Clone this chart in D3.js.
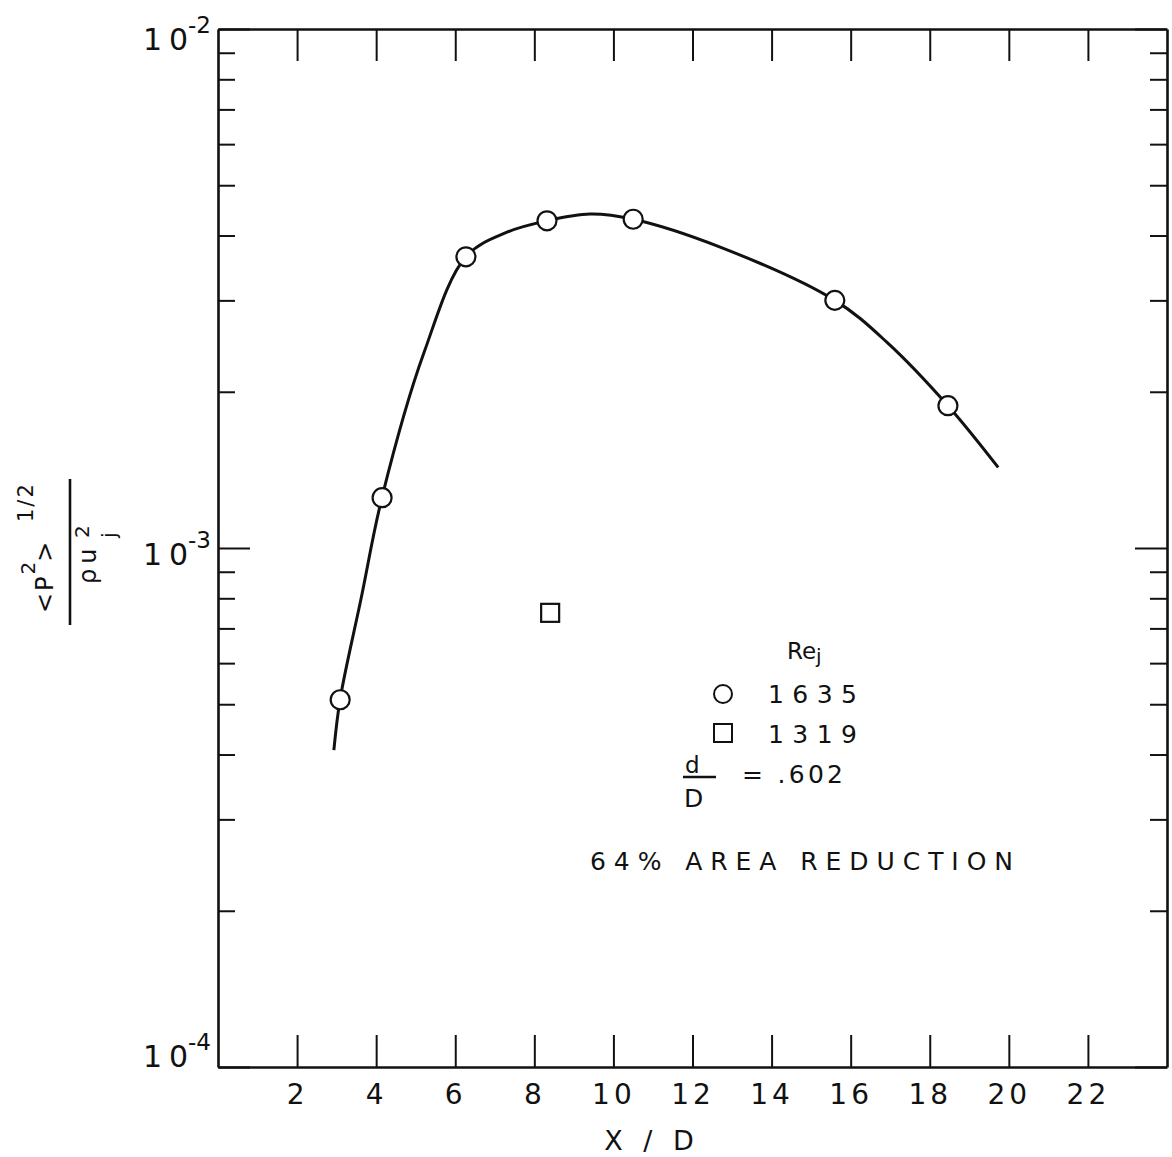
<!DOCTYPE html>
<html>
<head>
<meta charset="utf-8">
<script src="https://cdn.jsdelivr.net/npm/d3@7"></script>
<style>
  body { margin: 0; background: #fff; }
  text { font-family: "DejaVu Sans", sans-serif; fill: #111; }
</style>
</head>
<body>
<div id="chart"></div>
<script>
// data
var xTicks = [2, 4, 6, 8, 10, 12, 14, 16, 18, 20, 22];
var yDecades = [1e-4, 1e-3, 1e-2];
var yDecadeLabels = ["-4", "-3", "-2"];

// Re_j = 1635 (circles)
var circleX = [3.09, 4.15, 6.27, 8.32, 10.5, 15.6, 18.46];
var circleY = [5.1e-4, 1.25e-3, 3.64e-3, 4.27e-3, 4.3e-3, 3.0e-3, 1.88e-3];

// Re_j = 1319 (square)
var squareX = [8.4];
var squareY = [7.5e-4];

// faired curve through the circles
var curveX = [2.93, 3.09, 3.62, 4.15, 5.21, 6.27, 7.31, 8.32, 9.41, 10.5, 12.7, 15.6, 16.92, 18.46, 19.73];
var curveY = [4.08e-4, 5.12e-4, 8.0e-4, 1.254e-3, 2.38e-3, 3.64e-3, 4.06e-3, 4.27e-3, 4.4e-3, 4.3e-3, 3.8e-3, 3.0e-3, 2.49e-3, 1.88e-3, 1.43e-3];

var svgWidth = 1172;
var svgHeight = 1157;

// plot frame edges
var plotLeft = 218, plotRight = 1167, plotTop = 29, plotBottom = 1067;

var svg = d3.select("#chart")
  .append("svg")
  .attr("width", svgWidth)
  .attr("height", svgHeight);

var xScale = d3.scaleLinear().domain([0, 24]).range([plotLeft, plotRight]);
var yScale = d3.scaleLog().domain([1e-4, 1e-2]).range([plotBottom, plotTop]);

// minor ticks 1..9 per decade
var yTickVals = [];
[1e-4, 1e-3].forEach(function (d) {
  for (var k = 1; k <= 9; k++) yTickVals.push(d * k);
});
yTickVals.push(1e-2);
function isMajor(v) {
  return yDecades.some(function (d) { return Math.abs(v / d - 1) < 1e-6; });
}

var strokeW = 2.6;

// bottom axis, ticks pointing in
var bottomAxis = svg.append("g")
  .attr("transform", `translate(0, ${plotBottom})`)
  .call(d3.axisBottom(xScale).tickValues(xTicks).tickSizeInner(-32).tickSizeOuter(0));
bottomAxis.selectAll("text")
  .attr("y", 37).attr("dy", 0)
  .style("font-size", "28px")
  .style("letter-spacing", "4px");

// top axis
svg.append("g")
  .attr("transform", `translate(0, ${plotTop})`)
  .call(d3.axisTop(xScale).tickValues(xTicks).tickSizeInner(-32).tickSizeOuter(0).tickFormat(""));

// left axis
var leftAxis = svg.append("g")
  .attr("transform", `translate(${plotLeft}, 0)`)
  .call(d3.axisLeft(yScale).tickValues(yTickVals).tickSizeInner(-17).tickSizeOuter(0).tickFormat(""));
leftAxis.selectAll(".tick line").attr("x2", d => isMajor(d) ? 32 : 17);

// right axis
var rightAxis = svg.append("g")
  .attr("transform", `translate(${plotRight}, 0)`)
  .call(d3.axisRight(yScale).tickValues(yTickVals).tickSizeInner(-17).tickSizeOuter(0).tickFormat(""));
rightAxis.selectAll(".tick line").attr("x2", d => isMajor(d) ? -32 : -17);

svg.selectAll(".domain")
  .attr("stroke", "#111")
  .attr("stroke-width", strokeW);
svg.selectAll(".tick line")
  .attr("stroke", "#111")
  .attr("stroke-width", 2);

// decade labels 10^n
var labelNudge = [0, 17, 21];
yDecades.forEach(function (d, i) {
  var t = svg.append("text")
    .attr("x", 211)
    .attr("y", yScale(d) + labelNudge[i])
    .attr("text-anchor", "end")
    .style("font-size", "30px");
  t.append("tspan").text("1").style("letter-spacing", "7px");
  t.append("tspan").text("0");
  t.append("tspan").text(yDecadeLabels[i])
    .attr("dy", -17)
    .style("font-size", "23px");
});

// fitted curve
var line = d3.line()
  .x(d => xScale(d[0]))
  .y(d => yScale(d[1]))
  .curve(d3.curveCatmullRom.alpha(0.5));

svg.append("path")
  .datum(curveX.map((x, i) => [x, curveY[i]]))
  .attr("d", line)
  .attr("fill", "none")
  .attr("stroke", "#111")
  .attr("stroke-width", 3);

// circle points
svg.selectAll(".pt")
  .data(circleX.map((x, i) => [x, circleY[i]]))
  .enter()
  .append("circle")
  .attr("class", "pt")
  .attr("cx", d => xScale(d[0]))
  .attr("cy", d => yScale(d[1]))
  .attr("r", 9.5)
  .attr("fill", "#fff")
  .attr("stroke", "#111")
  .attr("stroke-width", 2.2);

// square point
svg.selectAll(".sq")
  .data(squareX.map((x, i) => [x, squareY[i]]))
  .enter()
  .append("rect")
  .attr("class", "sq")
  .attr("x", d => xScale(d[0]) - 9)
  .attr("y", d => yScale(d[1]) - 9)
  .attr("width", 18)
  .attr("height", 18)
  .attr("fill", "#fff")
  .attr("stroke", "#111")
  .attr("stroke-width", 2.2);

// x axis title
svg.append("text")
  .attr("x", 652)
  .attr("y", 1150)
  .attr("text-anchor", "middle")
  .style("font-size", "27px")
  .style("letter-spacing", "6px")
  .text("X / D");

// y axis title as a rotated fraction
var yt = svg.append("g").attr("transform", "translate(70, 552) rotate(-90)");
yt.append("line")
  .attr("x1", -73).attr("x2", 73)
  .attr("stroke", "#111").attr("stroke-width", 2.6);
var num = yt.append("text").attr("x", -61).attr("y", -17).style("font-size", "24px");
num.append("tspan").text("<P").style("letter-spacing", "2px");
num.append("tspan").text("2").attr("dy", -18).style("font-size", "20px");
num.append("tspan").text(">").attr("dy", 18);
yt.append("text").attr("x", 30).attr("y", -37).style("font-size", "21px")
  .style("letter-spacing", "2px").text("1/2");
yt.append("text").attr("x", -32).attr("y", 26).style("font-size", "24px")
  .style("letter-spacing", "5px").text("ρu");
yt.append("text").attr("x", 14).attr("y", 19).style("font-size", "20px").text("2");
yt.append("text").attr("x", 14).attr("y", 46).style("font-size", "20px").text("j");

// legend
var lg = svg.append("g");
var rej = lg.append("text").attr("x", 787).attr("y", 659).style("font-size", "23px");
rej.append("tspan").text("Re");
rej.append("tspan").text("j").attr("dy", 4).style("font-size", "20px");

lg.append("circle").attr("cx", 723).attr("cy", 694).attr("r", 9)
  .attr("fill", "#fff").attr("stroke", "#111").attr("stroke-width", 2);
lg.append("text").attr("x", 768).attr("y", 703).style("font-size", "25px")
  .attr("textLength", 89).attr("lengthAdjust", "spacing").text("1635");

lg.append("rect").attr("x", 714).attr("y", 724).attr("width", 18).attr("height", 18)
  .attr("fill", "#fff").attr("stroke", "#111").attr("stroke-width", 2);
lg.append("text").attr("x", 768).attr("y", 743).style("font-size", "25px")
  .attr("textLength", 89).attr("lengthAdjust", "spacing").text("1319");

lg.append("text").attr("x", 685).attr("y", 773).style("font-size", "23px").text("d");
lg.append("line").attr("x1", 683).attr("x2", 716).attr("y1", 777).attr("y2", 777)
  .attr("stroke", "#111").attr("stroke-width", 2.4);
lg.append("text").attr("x", 684).attr("y", 807).style("font-size", "25px").text("D");
lg.append("text").attr("x", 742).attr("y", 783).style("font-size", "25px")
  .attr("textLength", 101).attr("lengthAdjust", "spacing").text("= .602");

lg.append("text").attr("x", 590).attr("y", 870).style("font-size", "25px")
  .attr("textLength", 423).attr("lengthAdjust", "spacing").text("64% AREA REDUCTION");
</script>
</body>
</html>
